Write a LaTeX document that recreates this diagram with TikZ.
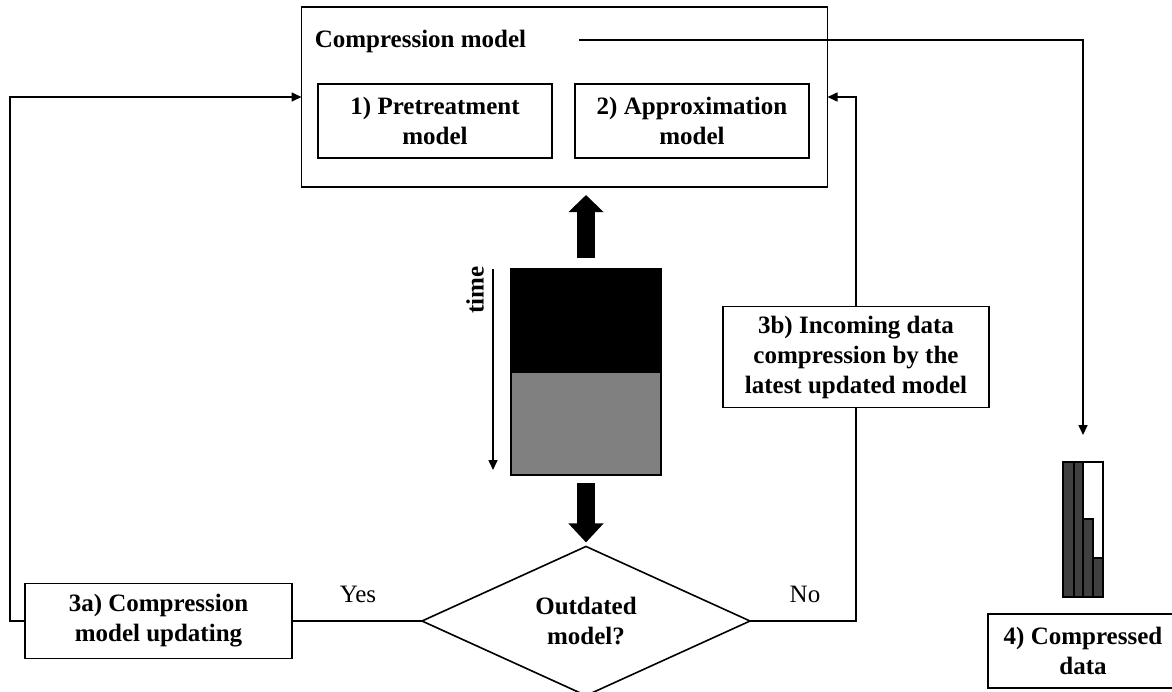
\documentclass[tikz,border=0pt]{standalone}
\usepackage{fontspec}
\setmainfont{Liberation Serif}
\usetikzlibrary{shapes.geometric,arrows.meta,calc}
\begin{document}
\begin{tikzpicture}[x=0.5pt,y=-0.5pt,
  line width=0.8pt,
  txt/.style={font=\fontsize{12.5}{15}\selectfont\bfseries, align=center},
  box/.style={draw, txt, inner sep=0pt, outer sep=0pt},
  plain/.style={font=\fontsize{12.5}{15}\selectfont, inner sep=0pt},
  arr/.style={-{Triangle[length=5pt,width=4.5pt]}},
  bigup/.style={line width=9pt, -{Triangle[length=8.5pt,width=17pt]}},
  bigdown/.style={line width=9pt, -{Triangle[length=9.5pt,width=17pt]}},
  barfill/.style={fill=black!75, draw=black}
]
\useasboundingbox (0,0) rectangle (1172,691);
\clip (0,0) rectangle (1172,691);

% compression model container
\node[box, minimum width=263pt, minimum height=90pt] (outer) at (564.5,97) {};
\node[txt, inner sep=0pt, anchor=base west] (title) at (314,47) {Compression model};
\node[box, minimum width=117pt, minimum height=37pt] (pre) at (435,121) {1) Pretreatment\\model};
\node[box, minimum width=117pt, minimum height=37pt] (approx) at (692,121) {2) Approximation\\model};

% data stack
\node[draw, fill=black, inner sep=0pt, outer sep=0pt, minimum width=75pt, minimum height=51.5pt] (stacktop) at (586,320.5) {};
\node[draw, fill=black!50, inner sep=0pt, outer sep=0pt, minimum width=75pt, minimum height=51.5pt] (stackbot) at (586,423.5) {};
\node[txt, inner sep=0pt, rotate=90] (time) at (475,290) {time};
\coordinate (tstart) at ($(stacktop.north west)+(-18,0)$);
\coordinate (tend) at ($(stackbot.south west)+(-18,-5)$);
\draw[arr] (tstart) -- (tend);

% decision
\node[draw, diamond, txt, inner sep=0pt, outer sep=0pt, minimum width=164pt, minimum height=70pt] (dec) at (586,621) {Outdated\\model?};
\node[box, minimum width=133.5pt, minimum height=37.5pt] (a3) at (158.5,621) {3a) Compression\\model updating};
\node[box, minimum width=133pt, minimum height=50.5pt] (b3) at (856,357) {3b) Incoming data\\compression by the\\latest updated model};
\node[plain] (yes) at (358,594) {Yes};
\node[plain] (no) at (805,594) {No};

% compressed data
\node[box, minimum width=95pt, minimum height=37pt] (c4) at (1083,651) {4) Compressed\\data};
\node[draw, inner sep=0pt, outer sep=0pt, minimum width=20pt, minimum height=67.5pt] (chart) at (1083,529.5) {};
\draw[barfill] (1063,462) rectangle (1074,597);
\draw[barfill] (1074,462) rectangle (1083,597);
\draw[barfill] (1083,519) rectangle (1093,597);
\draw[barfill] (1093,558) rectangle (1103,597);
\draw (chart.north west) rectangle (chart.south east);

% thick arrows
\draw[bigup] ($(stacktop.north)+(0,-11)$) -- ($(stacktop.north |- outer.south)+(0,8)$);
\draw[bigdown] ($(stackbot.south)+(0,8)$) -- ($(stackbot.south |- dec.north)+(0,-4)$);

% connectors
\coordinate (outstart) at ($(title.base east)+(52,-7)$);
\coordinate (chartin) at ($(chart.north)+(0,-27)$);
\draw[arr] (outstart) -| (chartin);
\draw[arr] (a3.west) -- ++(-15,0) |- (outer.west);
\draw (a3.east) -- (dec.west);
\draw (dec.east) -| (b3.south);
\draw[arr] (b3.north) |- (outer.east);
\end{tikzpicture}
\end{document}
